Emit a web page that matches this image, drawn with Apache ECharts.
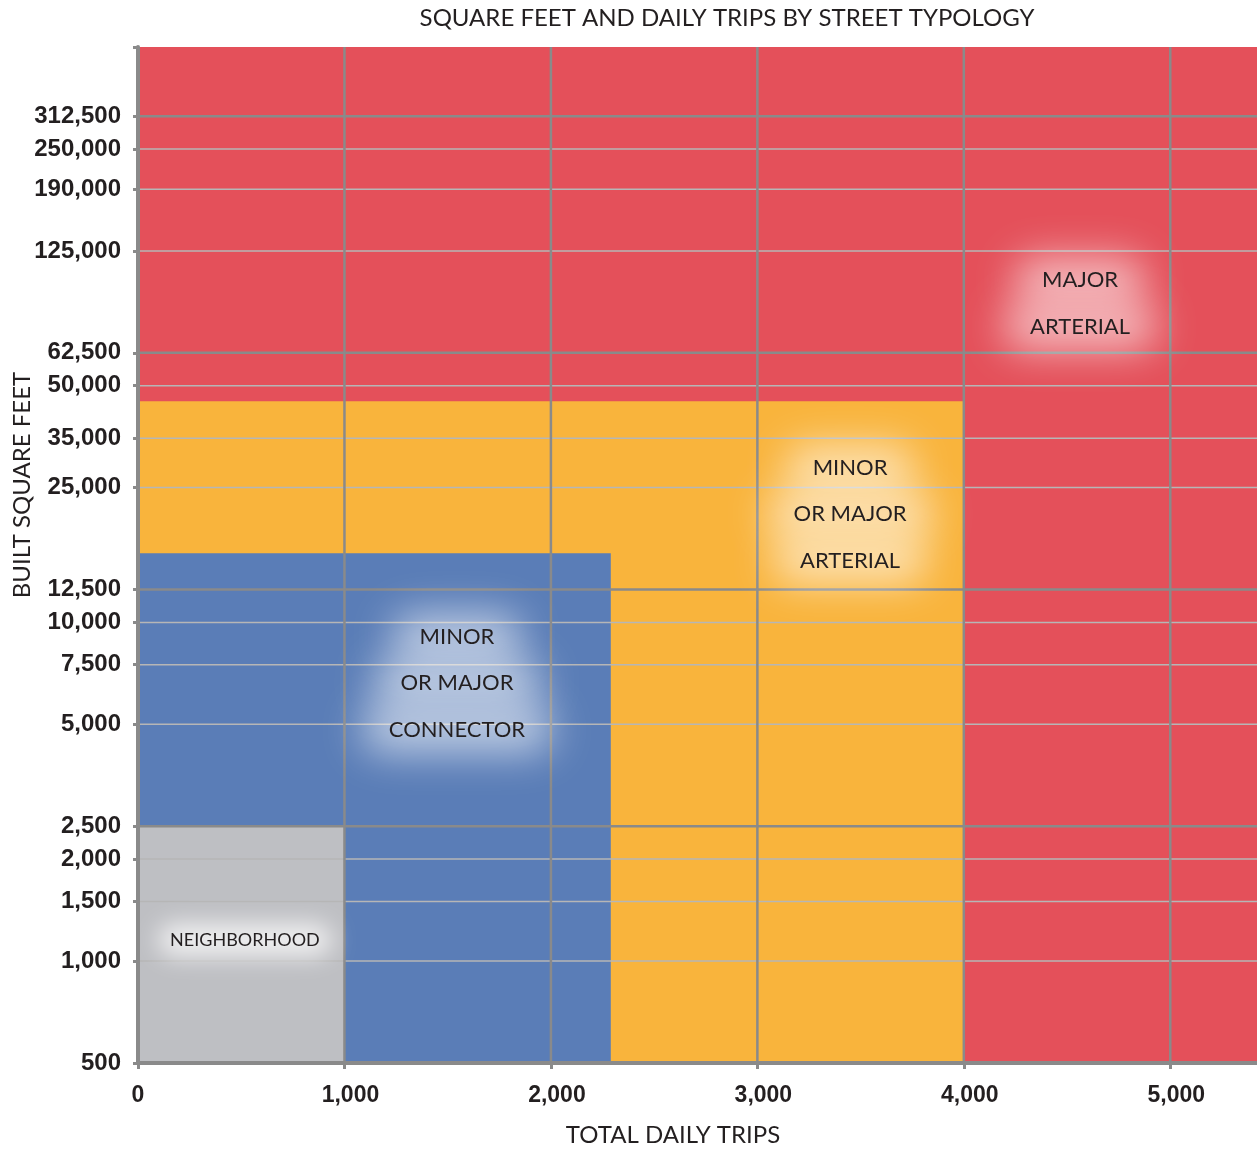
<!DOCTYPE html>
<html>
<head>
<meta charset="utf-8">
<title>Square Feet and Daily Trips by Street Typology</title>
<script src="https://cdn.jsdelivr.net/npm/echarts@6/dist/echarts.min.js"></script>
<style>
  html, body { margin: 0; padding: 0; background: #ffffff; }
  #chart { width: 1257px; height: 1149px; }
</style>
</head>
<body>
<div id="chart"></div>
<script>
// Street typology zones: trips range (x) and built square feet range (y)
const zoneNames = ['MAJOR ARTERIAL', 'MINOR OR MAJOR ARTERIAL', 'MINOR OR MAJOR CONNECTOR', 'NEIGHBORHOOD'];
const zoneTripsFrom = [0, 0, 0, 0];
const zoneTripsTo = [5420, 4000, 2290, 1000];
const zoneSqftFrom = [500, 500, 500, 500];
const zoneSqftTo = [500000, 45000, 16000, 2500];

// Zone captions (one entry per line) and where each caption sits, in data units
const zoneCaptionLines = [
  ['MAJOR', 'ARTERIAL'],
  ['MINOR', 'OR MAJOR', 'ARTERIAL'],
  ['MINOR', 'OR MAJOR', 'CONNECTOR'],
  ['NEIGHBORHOOD']
];
const captionTrips = [4563, 3449, 1545, 518];
const captionSqft = [87400, 20900, 6620, 1154];

// Axis ticks
const tripTicks = [0, 1000, 2000, 3000, 4000, 5000];
const sqftTicks = [500, 1000, 1500, 2000, 2500, 5000, 7500, 10000, 12500, 25000, 35000, 50000, 62500, 125000, 190000, 250000, 312500];
const sqftBoundaryTicks = [2500, 12500, 62500, 312500];
const TRIPS_MAX = 5420;
const SQFT_MIN = 500;
const SQFT_MAX = 500000;

// ---- styling ----
const zoneColors = ['#e4505a', '#f9b43c', '#5a7db7', '#bebfc3'];
const INK = '#231f20';
const GRID_DARK = '#8a8a8a';
const GRID_LIGHT = '#b6b6b6';
const CAPTION_FONT = 'Lato, "Open Sans", sans-serif';
const NUMBER_FONT = '"Liberation Sans", Arial, sans-serif';
const CAPTION_LINE = 46.5;

const measureCtx = document.createElement('canvas').getContext('2d');
function textWidth(text, font) {
  measureCtx.font = font;
  return measureCtx.measureText(text).width;
}
const fmt = v => Math.round(v).toLocaleString('en-US');

const zoneData = zoneNames.map((n, i) => [zoneTripsFrom[i], zoneTripsTo[i], zoneSqftFrom[i], zoneSqftTo[i], i]);
const captionData = zoneNames.map((n, i) => [captionTrips[i], captionSqft[i], i]);
const hLineData = sqftTicks.filter(v => v > SQFT_MIN).map(v => [0, v, sqftBoundaryTicks.includes(v) ? 1 : 0]);
const vLineData = tripTicks.filter(v => v > 0).map(v => [v, SQFT_MIN]);

const numberStyle = { fontFamily: NUMBER_FONT, fontWeight: 'bold', fontSize: 23, color: INK };

const chart = echarts.init(document.getElementById('chart'), null, { renderer: 'canvas' });

const option = {
  animation: false,
  backgroundColor: '#ffffff',
  title: {
    text: 'SQUARE FEET AND DAILY TRIPS BY STREET TYPOLOGY',
    left: 727,
    top: 6,
    textAlign: 'center',
    padding: 0,
    textStyle: { fontFamily: CAPTION_FONT, fontWeight: 'normal', fontSize: 24, color: INK }
  },
  grid: { left: 138, right: 0, top: 47, bottom: 86, containLabel: false, outerBoundsMode: 'none' },
  xAxis: {
    type: 'value',
    min: 0,
    max: TRIPS_MAX,
    z: 6,
    name: 'TOTAL DAILY TRIPS',
    nameLocation: 'middle',
    nameGap: 60,
    nameMoveOverlap: false,
    nameTextStyle: { fontFamily: CAPTION_FONT, fontSize: 24, color: INK, padding: [0, 49, 0, 0] },
    axisLine: { show: true, onZero: false, lineStyle: { color: GRID_DARK, width: 4 } },
    axisTick: { show: true, customValues: tripTicks, length: 6, lineStyle: { color: GRID_DARK, width: 3 } },
    axisLabel: {
      customValues: tripTicks,
      formatter: v => (v === 0 ? '{z|0}' : '{n|' + fmt(v) + '}'),
      margin: 21,
      rich: {
        z: Object.assign({}, numberStyle),
        n: Object.assign({ padding: [0, 0, 0, 12] }, numberStyle)
      }
    },
    splitLine: { show: false }
  },
  yAxis: {
    type: 'log',
    logBase: 10,
    min: SQFT_MIN,
    max: SQFT_MAX,
    z: 6,
    name: 'BUILT SQUARE FEET',
    nameLocation: 'middle',
    nameGap: 104,
    nameMoveOverlap: false,
    nameTextStyle: { fontFamily: CAPTION_FONT, fontSize: 24, color: INK, padding: [0, 0, 0, 140] },
    axisLine: { show: true, lineStyle: { color: GRID_DARK, width: 4 } },
    axisTick: { show: true, customValues: sqftTicks.concat([SQFT_MAX]), length: 5, lineStyle: { color: GRID_DARK, width: 3 } },
    axisLabel: {
      customValues: sqftTicks,
      formatter: fmt,
      fontFamily: NUMBER_FONT,
      fontWeight: 'bold',
      fontSize: 24,
      color: INK,
      margin: 17
    },
    splitLine: { show: false }
  },
  series: [
    {
      // coloured typology zones
      name: 'zones',
      type: 'custom',
      z: 1,
      silent: true,
      encode: { x: [0, 1], y: [2, 3] },
      data: zoneData,
      renderItem(params, api) {
        const p0 = api.coord([api.value(0), api.value(2)]);
        const p1 = api.coord([api.value(1), api.value(3)]);
        return {
          type: 'rect',
          shape: { x: p0[0], y: p1[1], width: p1[0] - p0[0], height: p0[1] - p1[1] },
          style: { fill: zoneColors[api.value(4)] }
        };
      }
    },
    {
      // horizontal grid lines at every square-feet tick
      name: 'sqft grid',
      type: 'custom',
      z: 2,
      silent: true,
      encode: { x: 0, y: 1 },
      data: hLineData,
      renderItem(params, api) {
        const cs = params.coordSys;
        const y = api.coord([0, api.value(1)])[1];
        const strong = api.value(2) === 1;
        return {
          type: 'line',
          shape: { x1: cs.x, y1: y, x2: cs.x + cs.width, y2: y },
          style: { stroke: strong ? GRID_DARK : GRID_LIGHT, lineWidth: strong ? 2.5 : 1.5 }
        };
      }
    },
    {
      // vertical grid lines at every trips tick
      name: 'trips grid',
      type: 'custom',
      z: 2,
      silent: true,
      encode: { x: 0, y: 1 },
      data: vLineData,
      renderItem(params, api) {
        const cs = params.coordSys;
        const x = api.coord([api.value(0), SQFT_MIN])[0];
        return {
          type: 'line',
          shape: { x1: x, y1: cs.y, x2: x, y2: cs.y + cs.height },
          style: { stroke: GRID_DARK, lineWidth: 2.5 }
        };
      }
    },
    {
      // zone captions with a soft white halo behind each line
      name: 'captions',
      type: 'custom',
      z: 4,
      silent: true,
      encode: { x: 0, y: 1 },
      data: captionData,
      renderItem(params, api) {
        const idx = api.value(2);
        const lines = zoneCaptionLines[idx];
        const c = api.coord([api.value(0), api.value(1)]);
        const small = lines.length === 1;
        const fontSize = small ? 18 : 22;
        const font = fontSize + 'px ' + CAPTION_FONT;
        const OFF = 4000;
        const children = [];
        lines.forEach((t, k) => {
          const cy = c[1] + (k - (lines.length - 1) / 2) * CAPTION_LINE;
          const w = textWidth(t, font) + (small ? 24 : 56);
          const h = small ? 32 : 46;
          children.push({
            type: 'rect',
            shape: { x: c[0] - w / 2 - OFF, y: cy - h / 2, width: w, height: h, r: h / 2 },
            style: {
              fill: '#ffffff',
              shadowBlur: small ? 24 : 40,
              shadowColor: small ? 'rgba(255,255,255,0.8)' : 'rgba(255,255,255,0.62)',
              shadowOffsetX: OFF
            }
          });
        });
        lines.forEach((t, k) => {
          const cy = c[1] + (k - (lines.length - 1) / 2) * CAPTION_LINE;
          children.push({
            type: 'text',
            x: c[0],
            y: cy,
            style: {
              text: t,
              fontSize: fontSize,
              fontFamily: CAPTION_FONT,
              fill: INK,
              align: 'center',
              verticalAlign: 'middle'
            }
          });
        });
        return { type: 'group', children };
      }
    }
  ]
};

chart.setOption(option);
</script>
</body>
</html>
